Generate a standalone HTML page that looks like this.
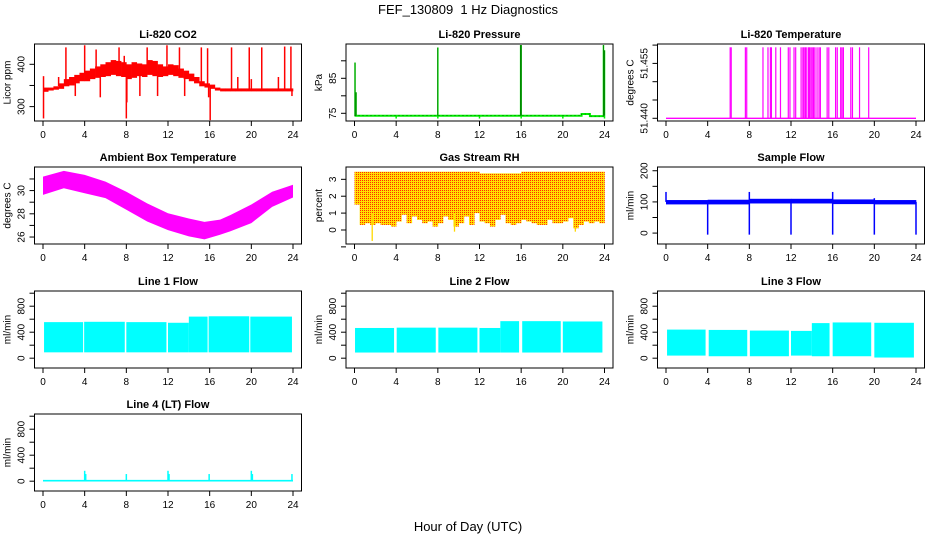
<!DOCTYPE html>
<html><head><meta charset="utf-8">
<style>
html,body{margin:0;padding:0;background:#fff;}
svg{display:block;font-family:"Liberation Sans",Arial,sans-serif;}
</style></head>
<body>
<svg id="chart" width="936" height="540" viewBox="0 0 936 540" xmlns="http://www.w3.org/2000/svg">
<defs>
<pattern id="rhpat" width="2" height="2" patternUnits="userSpaceOnUse">
<rect width="2" height="2" fill="#ffe000"/><rect width="1" height="1" fill="#ff2a00"/>
</pattern>
</defs>
<rect width="936" height="540" fill="#fff"/>
<text x="468" y="14" text-anchor="middle" font-size="13" xml:space="preserve">FEF_130809  1 Hz Diagnostics</text>
<text x="468" y="531" text-anchor="middle" font-size="13">Hour of Day (UTC)</text>
</svg>
<script>
// ---- data arrays ----
const co2Lo=[335,338,340,342,348,350,355,360,360,365,368,370,372,375,372,370,365,368,372,370,375,372,370,372,375,372,368,365,360,355,348,345,342,338,336,336,336,336,336,336,336,336,336,336,336,336,336,336];
const co2Hi=[345,345,348,355,365,370,375,380,385,390,395,400,405,410,408,405,400,405,402,400,410,408,400,395,400,398,390,385,378,370,360,355,352,345,343,343,343,343,343,343,343,343,343,343,343,343,343,343];
const co2SpikeT=[2.2,4.0,5.1,7.3,7.8,10.0,11.9,13.1,15.2,15.8,18.1,19.8,21.0,23.2,23.8,1.5,5.5,3.1,13.6,11.0,18.7,20.0,22.6,0.05,0.05,8.0,8.05,16.05,15.9,9.3,23.9];
const co2SpikeV=[440,445,435,440,420,440,445,440,440,438,440,440,440,442,442,370,322,325,325,325,370,365,370,272,372,272,310,268,322,325,325];

const presT=[0,21.8,21.8,22.6,22.6,24];
const presV=[74.3,74.3,74.8,74.8,74.2,74.2];
const presSpikeT=[0.05,0.15,8.0,15.95,16.0,23.9,24,4,8,12,16,20,24];
const presSpikeV=[89.5,81,93.8,94.5,94.5,94.5,93,73.5,73.5,73.5,73.5,73.5,73.5];

const tempBase=51.440;
const tempSpikeT=[6.16,6.26,7.62,7.75,9.31,9.79,10.02,10.12,10.54,10.99,11.74,11.9,12.29,12.45,12.97,13.14,13.26,13.39,13.52,13.69,13.78,13.91,14.04,14.17,14.30,14.50,14.69,14.82,15.47,15.63,16.28,16.44,16.77,16.90,17.03,17.74,17.90,18.58,19.46];
const tempSpikeV=51.4594;

const ambT=[0,2,4,6,8,10,12,14,15.5,17,18,20,22,24];
const ambHi=[31.2,31.7,31.35,30.77,29.9,28.9,28.05,27.6,27.3,27.5,27.9,28.8,29.9,30.5];
const ambLo=[29.63,30.2,29.77,29.35,28.35,27.34,26.6,26.06,25.8,26.2,26.5,27.2,28.6,29.4];

const rhLo=[1.5,0.3,0.4,0.3,0.4,0.3,0.3,0.2,0.5,0.9,0.4,0.8,0.6,0.4,0.5,0.2,0.4,0.8,0.6,0.2,0.4,0.8,0.3,1.0,0.5,0.4,0.2,0.6,0.9,0.4,0.3,0.4,0.6,0.5,0.4,0.3,0.3,0.6,0.4,0.4,0.5,0.7,0.1,0.3,0.5,0.4,0.5,0.4];
const rhHi=[3.45,3.45,3.45,3.45,3.45,3.45,3.45,3.45,3.45,3.45,3.45,3.45,3.45,3.45,3.45,3.45,3.45,3.45,3.45,3.45,3.45,3.45,3.45,3.45,3.35,3.35,3.35,3.35,3.35,3.35,3.35,3.35,3.45,3.45,3.45,3.45,3.45,3.45,3.45,3.45,3.45,3.45,3.45,3.45,3.45,3.45,3.45,3.45];
const rhSpikeT=[1.7,9.6,21.2];
const rhSpikeV=[-0.65,-0.1,-0.1];

const sampLo=[92,92,95,95,93,92];
const sampHi=[106,107,110,110,108,106];
const sampSpikeT=[4,8,12,16,20,24,0,8,16,20];
const sampSpikeV=[-5,-5,-5,-5,-5,-5,132,132,132,112];

const l1Start=[0.1,3.95,8.0,12.0,14.0,15.9,19.9], l1End=[3.85,7.85,11.85,14.0,15.8,19.8,23.9];
const l1Lo=[90,90,90,90,90,90,90], l1Hi=[555,560,555,545,640,645,640];
const l2Start=[0.05,4.05,8.05,12.0,14.0,16.1,20.0], l2End=[3.8,7.8,11.8,14.0,15.8,19.8,23.8];
const l2Lo=[87,87,87,87,87,87,87], l2Hi=[465,470,470,465,570,570,565];
const l3Start=[0.1,4.1,8.05,12.0,14.0,16.0,20.0], l3End=[3.8,7.8,11.8,14.0,15.7,19.7,23.8];
const l3Lo=[40,30,30,40,30,30,10], l3Hi=[440,435,425,420,540,550,545];
const l4SpikeT=[4.0,4.1,8.0,12.0,12.1,15.95,20.0,20.1,23.9];
const l4SpikeV=[160,110,110,160,110,110,160,110,110];

const xTicks=[0,4,8,12,16,20,24];

// ---- drawing ----
const svg=document.getElementById('chart');
const NS='http://www.w3.org/2000/svg';
const colL=[34.5,346,657.5], rowT=[44,167,291,414], PW=267, PH=77;
function mk(tag,attrs,parent){const e=document.createElementNS(NS,tag);for(const k in attrs)e.setAttribute(k,attrs[k]);(parent||svg).appendChild(e);return e;}

function panel(c,r,ylim,yt,yl,title,ylab,name){
  const L=colL[c],T=rowT[r];
  const g=mk('g',{});
  
  
  const x=h=>L+8.5+h/24*(PW-17);
  const y=v=>T+PH-(v-ylim[0])/(ylim[1]-ylim[0])*PH;
  const plot=mk('g',{},g);
  
  
  const box=mk('rect',{x:L,y:T,width:PW,height:PH,fill:'none',stroke:'#000','stroke-width':1},g);
  
  
  const t=mk('text',{x:L+PW/2,y:T-6,'text-anchor':'middle','font-size':11,'font-weight':'bold'},g);
  t.textContent=title;
  
  
  const xa=mk('g',{},g);
  
  
  xTicks.forEach(h=>{
    mk('line',{x1:x(h),x2:x(h),y1:T+PH,y2:T+PH+5,stroke:'#000'},xa);
    const tl=mk('text',{x:x(h),y:T+PH+17,'text-anchor':'middle','font-size':10},xa);
    tl.textContent=h;
  });
  const ya=mk('g',{},g);
  
  
  yt.forEach((v,i)=>{
    mk('line',{x1:L,x2:L-5,y1:y(v),y2:y(v),stroke:'#000'},ya);
    if(yl[i]){const tl=mk('text',{x:0,y:0,'text-anchor':'middle','font-size':10,transform:`translate(${L-10},${y(v)}) rotate(-90)`},ya);tl.textContent=yl[i];}
  });
  const yt2=mk('text',{x:0,y:0,'text-anchor':'middle','font-size':10,transform:`translate(${L-24},${T+PH/2}) rotate(-90)`},g);
  yt2.textContent=ylab;
  
  
  return {g:plot,x,y};
}
function spikes(p,ts,vs,base,col,w){
  ts.forEach((t,i)=>{const b=typeof base==='function'?base(t):base;const v=Array.isArray(vs)?vs[i]:vs;
    mk('line',{x1:p.x(t),x2:p.x(t),y1:p.y(b),y2:p.y(v),stroke:col,'stroke-width':w||1.3},p.g);});
}
function binBand(p,lo,hi,fill){
  const n=lo.length,dt=24/n;
  lo.forEach((v,i)=>{const x0=p.x(i*dt),x1=p.x((i+1)*dt);
    mk('rect',{x:x0,y:p.y(hi[i]),width:x1-x0+0.3,height:p.y(v)-p.y(hi[i]),fill:fill},p.g);});
}
function segBand(p,s,e,lo,hi,fill){
  s.forEach((t,i)=>{mk('rect',{x:p.x(t),y:p.y(hi[i]),width:Math.max(1,p.x(e[i])-p.x(t)),height:p.y(lo[i])-p.y(hi[i]),fill:fill},p.g);});
}

// CO2
let p=panel(0,0,[266,448],[300,350,400],['300','','400'],'Li-820 CO2','Licor ppm','co2');
binBand(p,co2Lo,co2Hi,'#ff0000');
spikes(p,co2SpikeT,co2SpikeV,t=>{const i=Math.min(47,Math.floor(t/0.5));return (co2Lo[i]+co2Hi[i])/2;},'#ff0000',1.5);

// Pressure
p=panel(1,0,[72.8,94.8],[75,80,85,90],['75','','85',''],'Li-820 Pressure','kPa','pressure');
mk('polyline',{points:presT.map((t,i)=>p.x(t)+','+p.y(presV[i])).join(' '),fill:'none',stroke:'#00ee00','stroke-width':2},p.g);
spikes(p,presSpikeT,presSpikeV,74.3,'#00ee00',1.5);
mk('polyline',{points:presT.map((t,i)=>p.x(t)+','+p.y(presV[i])).join(' '),fill:'none',stroke:'#000','stroke-width':0.5,'stroke-dasharray':'1,3'},p.g);
spikes(p,presSpikeT.slice(0,7),presSpikeV.slice(0,7),74.3,'#000',0.4);

// Temperature
p=panel(2,0,[51.43926,51.4603],[51.440,51.445,51.450,51.455,51.460],['51.440','','','51.455',''],'Li-820 Temperature','degrees C','li820-temp');
mk('line',{x1:p.x(0),x2:p.x(24),y1:p.y(tempBase),y2:p.y(tempBase),stroke:'#ff00ff','stroke-width':1.3},p.g);
spikes(p,tempSpikeT,tempSpikeV,tempBase,'#ff00ff',1.2);

// Ambient
p=panel(0,1,[25.4,32.03],[26,27,28,29,30,31],['26','','28','','30',''],'Ambient Box Temperature','degrees C','ambient-temp');
mk('polygon',{points:ambT.map((t,i)=>p.x(t)+','+p.y(ambHi[i])).concat(ambT.slice().reverse().map((t,i)=>p.x(t)+','+p.y(ambLo[ambT.length-1-i]))).join(' '),fill:'#ff00ff'},p.g);

// RH
p=panel(1,1,[-0.83,3.73],[-1,0,1,2,3],['','0','1','2','3'],'Gas Stream RH','percent','rh');
binBand(p,rhLo,rhHi,'url(#rhpat)');
spikes(p,rhSpikeT,rhSpikeV,1,'#ffd800',1.3);

// Sample flow
p=panel(2,1,[-35,212],[0,50,100,150,200],['0','','100','','200'],'Sample Flow','ml/min','sample-flow');
binBand(p,sampLo,sampHi,'#0000ff');
spikes(p,sampSpikeT,sampSpikeV,100,'#0000ff',1.5);

// Lines
const lt=[0,200,400,600,800,1000], ll=['0','','400','','800',''], ly=[-151,1034];
p=panel(0,2,ly,lt,ll,'Line 1 Flow','ml/min','line1-flow');
segBand(p,l1Start,l1End,l1Lo,l1Hi,'#00ffff');
p=panel(1,2,ly,lt,ll,'Line 2 Flow','ml/min','line2-flow');
segBand(p,l2Start,l2End,l2Lo,l2Hi,'#00ffff');
p=panel(2,2,ly,lt,ll,'Line 3 Flow','ml/min','line3-flow');
segBand(p,l3Start,l3End,l3Lo,l3Hi,'#00ffff');
p=panel(0,3,ly,lt,ll,'Line 4 (LT) Flow','ml/min','line4-flow');
mk('rect',{x:p.x(0),y:p.y(20),width:p.x(24)-p.x(0),height:p.y(-5)-p.y(20),fill:'#00ffff'},p.g);
spikes(p,l4SpikeT,l4SpikeV,5,'#00ffff',1.5);
</script>
</body></html>
